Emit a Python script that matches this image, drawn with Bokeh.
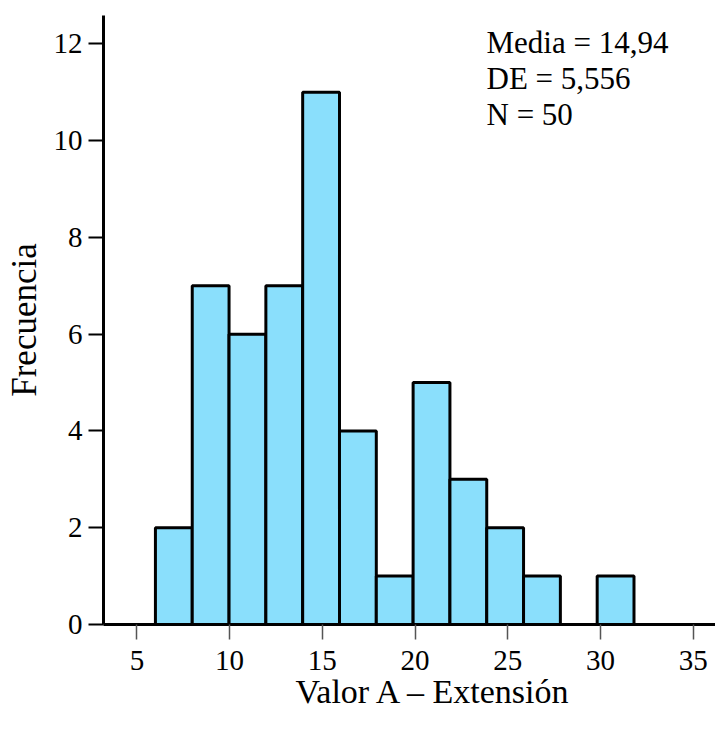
from bokeh.plotting import figure
from bokeh.models import ColumnDataSource, Range1d, FixedTicker, Title, Label
from bokeh.embed import file_html
from bokeh.resources import INLINE

# Data (13 bins from 6.0 to 31.8)
bin_edges = [6.0, 7.985, 9.97, 11.955, 13.94, 15.925, 17.91, 19.895,
             21.88, 23.865, 25.85, 27.835, 29.82, 31.805]
counts = [2, 7, 6, 7, 11, 4, 1, 5, 3, 2, 1, 0, 1]
x_ticks = [5, 10, 15, 20, 25, 30, 35]
y_ticks = [0, 2, 4, 6, 8, 10, 12]
stats_lines = ["Media = 14,94", "DE = 5,556", "N = 50"]
x_title = "Valor A \u2013 Extensi\u00f3n"
y_title = "Frecuencia"

FONT = "Liberation Serif"

lefts, rights, tops = [], [], []
for i, c in enumerate(counts):
    if c > 0:
        lefts.append(bin_edges[i])
        rights.append(bin_edges[i + 1])
        tops.append(c)
src = ColumnDataSource(dict(left=lefts, right=rights, top=tops, bottom=[0] * len(tops)))

p = figure(width=715, height=729, output_backend="svg", toolbar_location=None,
           x_range=Range1d(3.2, 36.2), y_range=Range1d(0, 12.585),
           min_border_left=103, min_border_right=0, min_border_top=15, min_border_bottom=105)

p.quad(left="left", right="right", top="top", bottom="bottom", source=src,
       fill_color="#8ADFFC", line_color="black", line_width=3)

p.outline_line_color = None
p.xgrid.visible = False
p.ygrid.visible = False
p.background_fill_color = "white"
p.border_fill_color = "white"

# x axis
xa = p.xaxis[0]
xa.ticker = FixedTicker(ticks=x_ticks)
xa.minor_tick_line_color = None
xa.major_tick_out = 15
xa.major_tick_in = 0
xa.major_tick_line_color = "#555555"
xa.major_tick_line_width = 1.5
xa.axis_line_width = 3
xa.axis_line_color = "black"
xa.major_label_text_font = FONT
xa.major_label_text_font_size = "29px"
xa.major_label_text_color = "black"
xa.major_label_standoff = 11

# y axis
ya = p.yaxis[0]
ya.ticker = FixedTicker(ticks=y_ticks)
ya.minor_tick_line_color = None
ya.major_tick_out = 15
ya.major_tick_in = 0
ya.major_tick_line_color = "black"
ya.major_tick_line_width = 2
ya.axis_line_width = 3
ya.axis_line_color = "black"
ya.major_label_text_font = FONT
ya.major_label_text_font_size = "29px"
ya.major_label_text_color = "black"
ya.major_label_standoff = 6
ya.axis_label = y_title
ya.axis_label_text_font = FONT
ya.axis_label_text_font_size = "35px"
ya.axis_label_text_font_style = "normal"
ya.axis_label_text_color = "black"
ya.axis_label_standoff = 7

xt = Title(text=x_title, align="left", offset=192, standoff=-4, text_font=FONT,
           text_font_size="34px", text_font_style="normal", text_color="black")
p.add_layout(xt, "below")

for i, line in enumerate(stats_lines):
    p.add_layout(Label(x=383, y=582 - i * 36, x_units="screen", y_units="screen",
                       text=line, text_font=FONT, text_font_size="31px",
                       text_color="black", text_baseline="alphabetic"))

open("out.html", "w").write(file_html(p, INLINE))
